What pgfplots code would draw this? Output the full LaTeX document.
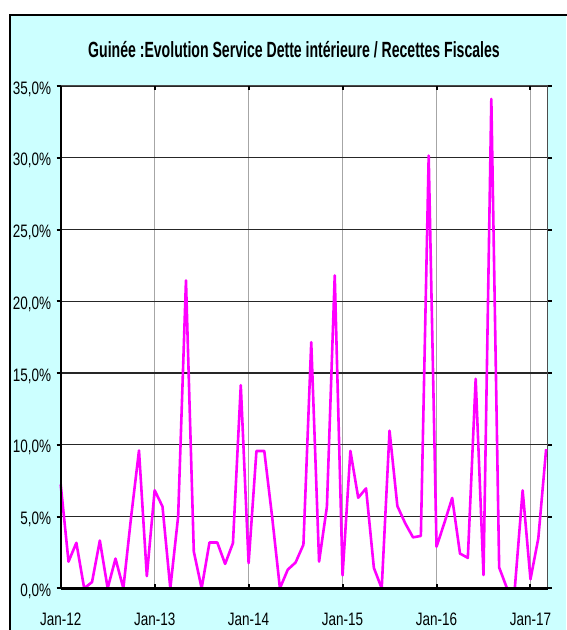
\documentclass[border=0pt]{standalone}
\usepackage{fontspec}
\setmainfont{Liberation Sans}[FakeStretch=0.82]
\newfontfamily\tickfont{Liberation Sans}[FakeStretch=0.75]
\newfontfamily\titlefont{Liberation Sans}[FakeStretch=0.64]
\usepackage{pgfplots}
\pgfplotsset{compat=1.18}
\definecolor{bgcyan}{HTML}{CCFFFF}
\definecolor{mag}{HTML}{FF00FF}
\begin{document}
\begin{tikzpicture}[x=1pt,y=1pt]
\path[use as bounding box] (0,0) rectangle (566,630);
\fill[white] (0,0) rectangle (566,630);
\fill[bgcyan] (10,0) rectangle (566,615);
\draw[black, line width=1.5pt] (10,-5) -- (10,615) -- (571,615);
\node[font=\titlefont\bfseries\fontsize{22}{26}\selectfont, anchor=base] at (294,572) {Guinée :Evolution Service Dette intérieure / Recettes Fiscales};
\begin{axis}[
  at={(60.7pt,41.7pt)}, anchor=south west,
  scale only axis, width=487pt, height=502.3pt,
  xmin=0, xmax=62.2, ymin=0, ymax=35,
  axis background/.style={fill=white},
  axis line style={draw=none},
  xtick={0,12,24,36,48,60},
  xticklabels={Jan-12,Jan-13,Jan-14,Jan-15,Jan-16,Jan-17},
  ytick={0,5,10,15,20,25,30,35},
  yticklabels={{0,0\%},{5,0\%},{10,0\%},{15,0\%},{20,0\%},{25,0\%},{30,0\%},{35,0\%}},
  ticklabel style={font=\tickfont\fontsize{18}{20}\selectfont},
  xticklabel style={yshift=-21pt},
  yticklabel style={xshift=-2pt, yshift=-3pt},
  xmajorgrids, ymajorgrids,
  x grid style={draw=gray!70, line width=0.8pt},
  y grid style={draw=black!85, line width=1.3pt},
  tick style={draw=black, line width=2pt},
  major tick length=4pt,
  xtick align=inside, ytick align=outside,
  clip=false,
]
\draw[black!70, line width=1pt] (axis cs:0,35) -- (axis cs:62.2,35) -- (axis cs:62.2,0);
\addplot[mag, line width=2.6pt, line join=round, no markers] coordinates {
(0,7.23) (1,1.86) (2,3.17) (3,0) (4,0.43) (5,3.33) (6,0) (7,2.07) (8,0) (9,5.0)
(10,9.6) (11,0.85) (12,6.83) (13,5.7) (14,0) (15,5.0) (16,21.45) (17,2.56) (18,0) (19,3.19)
(20,3.19) (21,1.70) (22,3.15) (23,14.15) (24,1.75) (25,9.57) (26,9.57) (27,5.0) (28,0) (29,1.3)
(30,1.8) (31,3.04) (32,17.15) (33,1.86) (34,5.68) (35,21.8) (36,0.9) (37,9.57) (38,6.31) (39,6.96)
(40,1.42) (41,0) (42,10.98) (43,5.73) (44,4.53) (45,3.55) (46,3.65) (47,30.15) (48,2.9) (49,4.55)
(50,6.3) (51,2.42) (52,2.12) (53,14.6) (54,0.93) (55,34.1) (56,1.45) (57,0) (58,0) (59,6.82)
(60,0.63) (61,3.48) (62,9.7)
};
\draw[black, line width=2pt] (axis cs:0,0) -- (axis cs:0,35);
\draw[black, line width=3pt] (axis cs:0,0) -- (axis cs:62.2,0);
\end{axis}
\end{tikzpicture}
\end{document}
